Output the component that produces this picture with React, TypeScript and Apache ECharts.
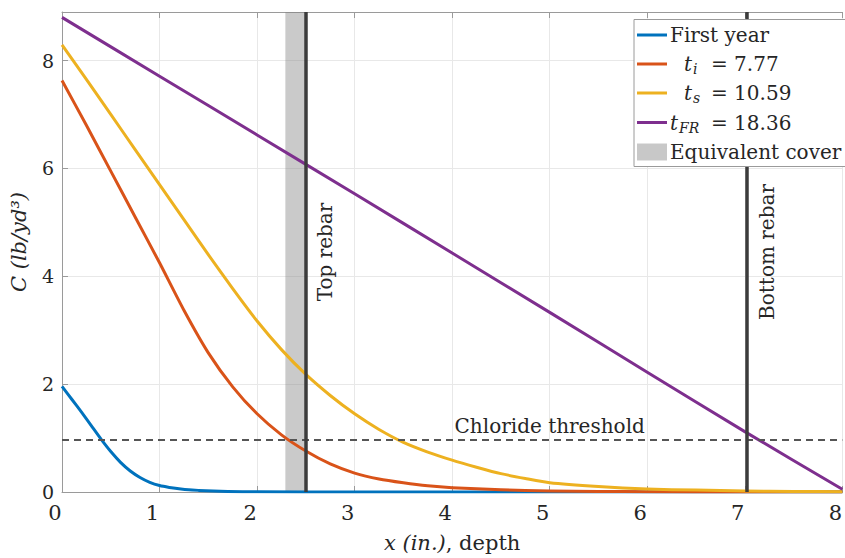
import React, { useEffect, useRef } from "react";
import * as echarts from "echarts";

// ---- data ----
const firstYearX = [0, 0.1, 0.2, 0.3, 0.4, 0.5, 0.6, 0.7, 0.8, 0.9, 1.0, 1.1, 1.2, 1.3, 1.4, 1.55, 1.7, 2.0, 3, 4, 5, 6, 7, 8];
const firstYearC = [1.96, 1.72, 1.48, 1.23, 0.98, 0.75, 0.55, 0.39, 0.27, 0.18, 0.12, 0.085, 0.06, 0.04, 0.03, 0.018, 0.01, 0.004, 0, 0, 0, 0, 0, 0];

const tiX = [0, 0.25, 0.5, 0.75, 1.0, 1.25, 1.5, 1.75, 2.0, 2.25, 2.5, 2.75, 3.0, 3.25, 3.5, 3.75, 4.0, 4.5, 5, 5.5, 6, 7, 8];
const tiC = [7.63, 6.8, 5.95, 5.1, 4.25, 3.37, 2.58, 1.95, 1.45, 1.06, 0.76, 0.52, 0.35, 0.24, 0.17, 0.115, 0.08, 0.04, 0.02, 0.01, 0.005, 0, 0];

const tsX = [0, 0.25, 0.5, 0.75, 1.0, 1.25, 1.5, 1.75, 2.0, 2.25, 2.5, 2.75, 3.0, 3.25, 3.5, 3.75, 4.0, 4.25, 4.5, 4.75, 5.0, 5.5, 6, 6.5, 7, 7.5, 8];
const tsC = [8.29, 7.65, 7.0, 6.35, 5.7, 5.05, 4.4, 3.77, 3.17, 2.64, 2.18, 1.79, 1.45, 1.16, 0.92, 0.74, 0.59, 0.46, 0.34, 0.25, 0.17, 0.1, 0.055, 0.035, 0.02, 0.01, 0.005];

const tfrX = [0, 1, 2, 3, 4, 5, 6, 7, 8];
const tfrC = [8.8, 7.71, 6.62, 5.53, 4.43, 3.33, 2.22, 1.12, 0.05];

const thresholdC = 0.96;
const topRebarX = 2.5;
const bottomRebarX = 7.02;
const coverStart = 2.29;
const coverEnd = 2.5;

const xMin = 0;
const xMax = 8;
const yMin = 0;
const yMax = 8.9;

const COLORS = ["#0072BD", "#D95319", "#EDB120", "#7E2F8E"];
const SERIF = "DejaVu Serif";
const TXT = "#262626";

const pairs = (xs: number[], ys: number[]) => xs.map((x, i) => [x, ys[i]]);

export default function App() {
  const ref = useRef<HTMLDivElement>(null);

  useEffect(() => {
    document.body.style.margin = "0";
    const chart = echarts.init(ref.current!, null, { renderer: "svg" });

    const lineSeries = (name: string, data: number[][], color: string) => ({
      name,
      type: "line",
      data,
      showSymbol: false,
      smooth: 0.2,
      clip: true,
      lineStyle: { color, width: 3, join: "round" },
      itemStyle: { color },
      z: 2,
    });

    const option: any = {
      animation: false,
      backgroundColor: "#ffffff",
      grid: { left: 62, right: -7, top: 12, bottom: 61, containLabel: false },
      xAxis: [
        {
          type: "value",
          min: xMin,
          max: xMax,
          interval: 1,
          axisLine: { show: true, lineStyle: { color: "#9a9a9a", width: 1 } },
          axisTick: { show: true, inside: true, length: 6, lineStyle: { color: "#9a9a9a" } },
          axisLabel: {
            fontFamily: SERIF,
            fontSize: 21,
            color: TXT,
            margin: 10,
            padding: [0, 14, 0, 0],
          },
          splitLine: { show: true, lineStyle: { color: "#e8e8e8", width: 1 } },
          name: "{i|x (in.)}{n|, depth}",
          nameLocation: "middle",
          nameGap: 40,
          nameTextStyle: {
            rich: {
              i: { fontFamily: SERIF, fontSize: 21, fontStyle: "italic", color: TXT },
              n: { fontFamily: SERIF, fontSize: 21, color: TXT },
            },
          },
        },
        {
          type: "value",
          position: "top",
          min: xMin,
          max: xMax,
          interval: 1,
          axisLine: { show: true, lineStyle: { color: "#9a9a9a", width: 1 } },
          axisTick: { show: true, inside: true, length: 6, lineStyle: { color: "#9a9a9a" } },
          axisLabel: { show: false },
          splitLine: { show: false },
        },
      ],
      yAxis: {
        type: "value",
        min: yMin,
        max: yMax,
        interval: 2,
        axisLine: { show: true, lineStyle: { color: "#9a9a9a", width: 1 } },
        axisTick: { show: true, inside: true, length: 6, lineStyle: { color: "#9a9a9a" } },
        axisLabel: {
          fontFamily: SERIF,
          fontSize: 19,
          color: TXT,
          margin: 8,
          formatter: (v: number) => (Math.abs(v % 2) < 1e-9 ? String(v) : ""),
        },
        splitLine: { show: true, lineStyle: { color: "#e8e8e8", width: 1 } },
        name: "C (lb/yd³)",
        nameLocation: "middle",
        nameGap: 33,
        nameTextStyle: { fontFamily: SERIF, fontSize: 21, fontStyle: "italic", color: TXT, padding: [0, 0, 0, 20] },
      },
      series: [
        lineSeries("First year", pairs(firstYearX, firstYearC), COLORS[0]),
        lineSeries("t_i = 7.77", pairs(tiX, tiC), COLORS[1]),
        lineSeries("t_s = 10.59", pairs(tsX, tsC), COLORS[2]),
        lineSeries("t_FR = 18.36", pairs(tfrX, tfrC), COLORS[3]),
        {
          name: "Equivalent cover",
          type: "line",
          data: [],
          z: 5,
          silent: true,
          markArea: {
            silent: true,
            itemStyle: { color: "rgba(128,128,128,0.42)" },
            data: [[{ xAxis: coverStart }, { xAxis: coverEnd }]],
          },
        },
        {
          name: "markers",
          type: "line",
          data: [],
          z: 6,
          silent: true,
          markLine: {
            silent: true,
            symbol: "none",
            label: { show: false },
            data: [
              { yAxis: thresholdC, lineStyle: { color: "#555555", width: 1.8, type: [7, 5] } },
              { xAxis: topRebarX, lineStyle: { color: "#3c3c3c", width: 3.5, type: "solid" } },
              { xAxis: bottomRebarX, lineStyle: { color: "#3c3c3c", width: 3.5, type: "solid" } },
            ],
          },
        },
      ],
    };

    chart.setOption(option);

    const px = (x: number, y: number) => chart.convertToPixel({ gridIndex: 0 }, [x, y]) as number[];
    const [topX] = px(topRebarX, 0);
    const [botX] = px(bottomRebarX, 0);
    const [, thrY] = px(0, thresholdC);
    const [, y0] = px(0, yMin);
    const [, y1] = px(0, yMax);
    const midY = (y0 + y1) / 2;
    const [labelX] = px(5.0, 0);

    const txt = (text: string, x: number, y: number, extra: any = {}, el: any = {}) => ({
      type: "text",
      x,
      y,
      silent: true,
      z: 102,
      ...el,
      style: {
        text,
        fontFamily: SERIF,
        fontSize: 20,
        fill: TXT,
        align: "left",
        verticalAlign: "middle",
        ...extra,
      },
    });

    const legLine = (y: number, color: string) => ({
      type: "line",
      silent: true,
      z: 101,
      shape: { x1: 637, y1: y, x2: 667, y2: y },
      style: { stroke: color, lineWidth: 3 },
    });

    const rows = [35, 64, 93, 122.5, 152];

    chart.setOption({
      graphic: [
        // annotations
        txt("Top rebar", topX + 19.5, midY, { align: "center" }, { rotation: Math.PI / 2, z: 50 }),
        txt("Bottom rebar", botX + 20, midY, { align: "center" }, { rotation: Math.PI / 2, z: 50 }),
        txt("Chloride threshold", labelX, thrY - 14, { align: "center" }, { z: 50 }),
        // legend box
        {
          type: "rect",
          silent: true,
          z: 100,
          shape: { x: 634, y: 19.5, width: 240, height: 147 },
          style: { fill: "#ffffff", stroke: "#9a9a9a", lineWidth: 1 },
        },
        legLine(rows[0], COLORS[0]),
        txt("First year", 670, rows[0]),
        legLine(rows[1], COLORS[1]),
        txt("t", 684, rows[1], { fontStyle: "italic" }),
        txt("i", 693, rows[1] + 5, { fontStyle: "italic", fontSize: 14 }),
        txt("= 7.77", 711, rows[1]),
        legLine(rows[2], COLORS[2]),
        txt("t", 684, rows[2], { fontStyle: "italic" }),
        txt("s", 693, rows[2] + 5, { fontStyle: "italic", fontSize: 14 }),
        txt("= 10.59", 711, rows[2]),
        legLine(rows[3], COLORS[3]),
        txt("t", 670, rows[3], { fontStyle: "italic" }),
        txt("FR", 679, rows[3] + 5, { fontStyle: "italic", fontSize: 14 }),
        txt("= 18.36", 711, rows[3]),
        {
          type: "rect",
          silent: true,
          z: 101,
          shape: { x: 637, y: 143.5, width: 30, height: 17 },
          style: { fill: "#c8c8c8" },
        },
        txt("Equivalent cover", 670, rows[4]),
      ],
    });

    return () => chart.dispose();
  }, []);

  return <div ref={ref} style={{ width: 845, height: 558 }} />;
}
